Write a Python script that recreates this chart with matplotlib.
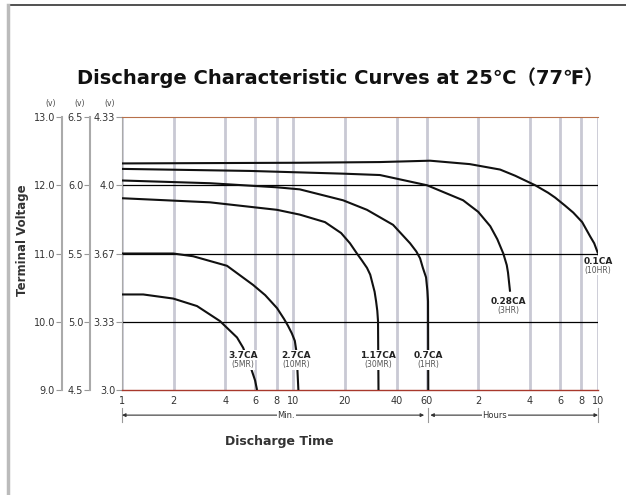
import matplotlib
matplotlib.use('Agg')
import matplotlib.pyplot as plt
from matplotlib.lines import Line2D
import matplotlib.transforms as mtransforms

# discharge time (min) and terminal voltage (12V scale)
t_01 = [1, 10.9, 32, 62.8, 107, 161, 197, 258, 307, 337, 386, 430, 485, 540, 570, 600]
v_01 = [12.32, 12.33, 12.34, 12.36, 12.31, 12.23, 12.14, 12.0, 11.89, 11.82, 11.7,
        11.6, 11.46, 11.25, 11.15, 11.0]

t_028 = [1, 5.59, 19.5, 32, 60.3, 97.9, 120, 141, 155, 168, 176, 179, 184]
v_028 = [12.24, 12.21, 12.17, 12.15, 12.0, 11.78, 11.61, 11.4, 11.21, 11.0, 10.83,
         10.72, 10.44]

t_07 = [1, 3.26, 8.03, 10.9, 19.5, 26.9, 38.2, 48, 52.2, 54.9, 57, 59.5, 60.6, 61.1, 61.3]
v_07 = [12.07, 12.03, 11.97, 11.94, 11.78, 11.64, 11.42, 11.15, 11.03, 10.93, 10.79,
        10.65, 10.45, 10.3, 9.0]

t_117 = [1, 3.26, 8.03, 10.9, 15.3, 19.0, 21.4, 23.5, 25.1, 26.9, 28.1, 29.8, 30.4,
         30.9, 31.2, 31.4]
v_117 = [11.81, 11.75, 11.64, 11.57, 11.46, 11.3, 11.15, 11.0, 10.9, 10.79, 10.69,
         10.44, 10.3, 10.16, 10.01, 9.0]

t_27 = [1, 1.99, 2.6, 4.1, 5.82, 6.85, 8.03, 8.83, 9.31, 9.8, 10.2, 10.4, 10.5, 10.7]
v_27 = [11.0, 11.0, 10.96, 10.82, 10.54, 10.39, 10.2, 10.04, 9.94, 9.83, 9.72, 9.58,
        9.43, 9.0]

t_37 = [1, 1.33, 1.99, 2.74, 3.73, 4.69, 5.09, 5.59, 5.98, 6.14]
v_37 = [10.4, 10.4, 10.34, 10.23, 10.01, 9.77, 9.62, 9.36, 9.14, 9.0]

curves = [(t_01, v_01), (t_028, v_028), (t_07, v_07),
          (t_117, v_117), (t_27, v_27), (t_37, v_37)]

# curve labels: rate, hour rate, position (min, V)
labels = [('3.7CA', '(5MR)', 5.09, 9.51),
          ('2.7CA', '(10MR)', 10.4, 9.51),
          ('1.17CA', '(30MR)', 31.2, 9.51),
          ('0.7CA', '(1HR)', 61.1, 9.51),
          ('0.28CA', '(3HR)', 179, 10.30),
          ('0.1CA', '(10HR)', 600, 10.89)]

x_ticks = [1, 2, 4, 6, 8, 10, 20, 40, 60, 120, 240, 360, 480, 600]
x_labels = ['1', '2', '4', '6', '8', '10', '20', '40', '60', '2', '4', '6', '8', '10']

v12 = [9, 10, 11, 12, 13]
v12_labels = ['9.0', '10.0', '11.0', '12.0', '13.0']
v6_labels = ['4.5', '5.0', '5.5', '6.0', '6.5']
v4_labels = ['3.0', '3.33', '3.67', '4.0', '4.33']

plt.rcParams['font.family'] = ['DejaVu Sans', 'Noto Sans CJK SC']

fig = plt.figure(figsize=(6.26, 4.95), dpi=100)
ax = fig.add_axes([0.1949, 0.2121, 0.7604, 0.5515])

ax.set_xscale('log')
ax.set_xlim(1, 600)
ax.set_ylim(9, 13)

# vertical grid lines
for x in x_ticks:
    ax.axvline(x, color='#c9c9d4', lw=2, zorder=1)
# horizontal grid lines
for y in [10, 11, 12]:
    ax.axhline(y, color='black', lw=0.9, zorder=2)

for t, v in curves:
    ax.plot(t, v, color='#111111', lw=1.5, zorder=3, solid_capstyle='butt',
            solid_joinstyle='round')

for rate, hr, x, y in labels:
    ax.text(x, y, rate, ha='center', va='center', fontsize=6.5, fontweight='bold',
            color='#222222', zorder=5, clip_on=False,
            bbox=dict(facecolor='white', edgecolor='none', pad=0.3))
    ax.text(x, y - 0.14, hr, ha='center', va='center', fontsize=5.5,
            color='#555555', zorder=5, clip_on=False,
            bbox=dict(facecolor='white', edgecolor='none', pad=0.3))

ax.set_xticks(x_ticks)
ax.set_xticklabels(x_labels)
ax.minorticks_off()
ax.tick_params(axis='x', length=0, labelsize=7, pad=4, colors='#333333')

# main (4V) axis on the plot edge
ax.set_yticks(v12)
ax.set_yticklabels(v4_labels)
ax.tick_params(axis='y', length=4, labelsize=7, pad=1, colors='#333333')
ax.tick_params(axis='y', color='#999999')

ax.spines['right'].set_visible(False)
ax.spines['left'].set_color('#aaaaaa')
ax.spines['top'].set_color('#b7704a')
ax.spines['top'].set_linewidth(0.8)
ax.spines['bottom'].set_color('#a8382c')
ax.spines['bottom'].set_linewidth(1.0)

# extra voltage scales to the left
for loc, labs in [(-0.126, v12_labels), (-0.067, v6_labels)]:
    sec = ax.secondary_yaxis(loc)
    sec.set_yticks(v12)
    sec.set_yticklabels(labs)
    sec.tick_params(length=4, labelsize=7, pad=1, labelcolor='#333333', color='#999999')
    sec.spines['left'].set_color('#aaaaaa')
    sec.spines['left'].set_linewidth(1.5)

# (v) headers above each scale
for xf in [-0.151, -0.088, -0.025]:
    ax.text(xf, 1.05, '(v)', transform=ax.transAxes, ha='center', va='center',
            fontsize=5.5, color='#444444')

# Min. / Hours range arrows under the time axis
trans = mtransforms.blended_transform_factory(ax.transData, ax.transAxes)
ya = -0.092
for x0, x1, name, xm in [(1, 58, 'Min.', 9.1), (63, 600, 'Hours', 150)]:
    ax.annotate('', xy=(x0, ya), xytext=(x1, ya), xycoords=trans, textcoords=trans,
                arrowprops=dict(arrowstyle='<|-|>', color='#333333', lw=0.8,
                                mutation_scale=5, shrinkA=0, shrinkB=0))
    ax.text(xm, ya, name, transform=trans, ha='center', va='center', fontsize=6,
            color='#333333', bbox=dict(facecolor='white', edgecolor='none', pad=0.5))
for x in [1, 61, 600]:
    ax.add_line(Line2D([x, x], [ya - 0.025, ya + 0.025], transform=trans,
                       color='#999999', lw=0.8, clip_on=False))

ax.text(0.33, -0.19, 'Discharge Time', transform=ax.transAxes, ha='center',
        va='center', fontsize=9, fontweight='bold', color='#333333')
fig.text(0.036, 0.515, 'Terminal Voltage', rotation=90, ha='center', va='center',
         fontsize=8.5, fontweight='bold', color='#333333')

fig.text(0.543, 0.843, 'Discharge Characteristic Curves at 25℃（77℉）',
         ha='center', va='center', fontsize=14, fontweight='bold', color='#111111')

# page border from the scan
fig.add_artist(Line2D([0.013, 1.0], [0.99, 0.99], transform=fig.transFigure,
                      color='#333333', lw=1.2))
fig.add_artist(Line2D([0.013, 0.013], [0.0, 0.99], transform=fig.transFigure,
                      color='#bbbbbb', lw=2.5))

fig.savefig('out.png', dpi=100)
